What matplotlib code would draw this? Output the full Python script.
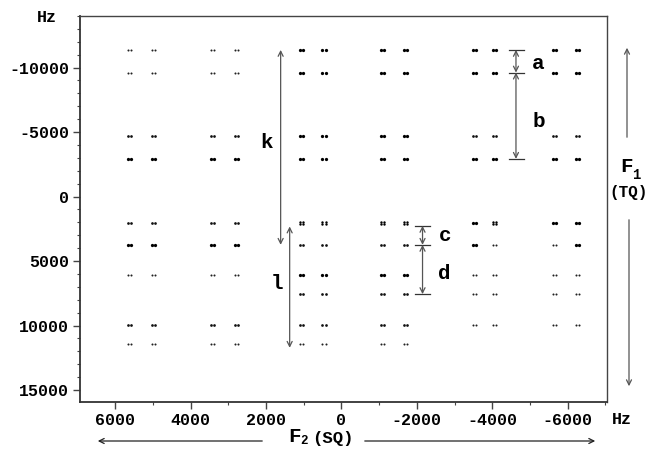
import matplotlib
matplotlib.use("Agg")
import matplotlib.pyplot as plt
from matplotlib.patches import FancyArrowPatch
from matplotlib.ticker import MultipleLocator, FixedLocator, FuncFormatter

plt.rcParams['font.family'] = ['Liberation Mono', 'DejaVu Sans']
plt.rcParams['font.weight'] = 'bold'
plt.rcParams['axes.unicode_minus'] = False

# ---- data ----
col_x = [5612, 4991, 3409, 2787, 1054, 462, -1088, -1707, -3520, -4070, -5644, -6265]
row_y = [-11370, -9610, -4730, -2920, 2050, 3740, 6070, 7570, 9950, 11420]
# 0 absent, 1 weak, 2 medium, 3 strong, 4 quartet
weights = [
    [1, 1, 1, 1, 3, 3, 3, 3, 3, 3, 3, 3],
    [1, 1, 1, 1, 3, 3, 3, 3, 3, 3, 3, 3],
    [2, 2, 2, 2, 3, 3, 3, 3, 2, 2, 2, 2],
    [3, 3, 3, 3, 3, 3, 3, 3, 3, 3, 3, 3],
    [2, 2, 2, 2, 4, 4, 4, 4, 3, 4, 3, 3],
    [3, 3, 3, 3, 2, 2, 2, 2, 3, 1, 1, 3],
    [1, 1, 1, 1, 3, 3, 3, 3, 1, 1, 1, 1],
    [0, 0, 0, 0, 2, 2, 2, 2, 1, 1, 1, 1],
    [2, 2, 2, 2, 2, 2, 2, 2, 1, 1, 1, 1],
    [1, 1, 1, 1, 1, 1, 1, 1, 0, 0, 0, 0],
]
doublet_split = 80     # Hz, horizontal splitting of each doublet
quartet_split = 230    # Hz, vertical splitting of quartets

x_ticks = [6000, 4000, 2000, 0, -2000, -4000, -6000]
y_ticks = [-10000, -5000, 0, 5000, 10000, 15000]

# ---- figure ----
W, H = 651, 449
fig = plt.figure(figsize=(W / 100, H / 100), dpi=100)
ax = fig.add_axes([80 / W, 1 - 402 / H, 527 / W, 386 / H])

sizes = {1: 2.2, 2: 3.8, 3: 5.5, 4: 3.0}
colors = {1: '#222222', 2: '#111111', 3: '#000000', 4: '#000000'}
for ri, y in enumerate(row_y):
    for ci, x in enumerate(col_x):
        w = weights[ri][ci]
        if w == 0:
            continue
        xs = [x + doublet_split / 2, x - doublet_split / 2]
        if w == 4:
            pts = [(xx, y + s * quartet_split / 2) for xx in xs for s in (-1, 1)]
        else:
            pts = [(xx, y) for xx in xs]
        px, py = zip(*pts)
        ax.scatter(px, py, s=sizes[w], c=colors[w], marker='o', linewidths=0)

ax.set_xlim(6930, -7040)
ax.set_ylim(15930, -14000)
ax.xaxis.set_major_locator(FixedLocator(x_ticks))
ax.yaxis.set_major_locator(FixedLocator(y_ticks))
ax.xaxis.set_minor_locator(MultipleLocator(1000))
ax.yaxis.set_minor_locator(MultipleLocator(1000))
fmt = FuncFormatter(lambda v, p: f"{int(round(v))}")
ax.xaxis.set_major_formatter(fmt)
ax.yaxis.set_major_formatter(fmt)
ax.tick_params(which='major', length=5, width=1.0, color='#444', labelsize=12, pad=3)
ax.tick_params(which='minor', length=2.5, width=0.8, color='#444')
for lab in ax.get_xticklabels() + ax.get_yticklabels():
    lab.set_fontweight('bold')
for side in ['left', 'bottom']:
    ax.spines[side].set_linewidth(1.3)
    ax.spines[side].set_color('#333')
for side in ['top', 'right']:
    ax.spines[side].set_linewidth(1.0)
    ax.spines[side].set_color('#444')

acol = '#555555'
def darrow(x, y0, y1):
    ax.annotate('', xy=(x, y0), xytext=(x, y1),
                arrowprops=dict(arrowstyle='<->', color=acol, lw=0.9,
                                mutation_scale=9, shrinkA=0, shrinkB=0))

def hbar(x0, x1, y):
    ax.plot([x0, x1], [y, y], color='#333', lw=0.9)

lab_kw = dict(fontsize=15, fontweight='bold', ha='center', va='center')
# k and l
darrow(1611, -11372, 3744)
ax.text(1990, -4160, 'k', **lab_kw)
darrow(1372, 2320, 11730)
ax.text(1716, 6770, 'l', **lab_kw)

# a and b
darrow(-4627, -11372, -9612)
darrow(-4627, -9612, -2922)
for yy in (-11372, -9612, -2922):
    hbar(-4440, -4840, yy)
ax.text(-5203, -10340, 'a', **lab_kw)
ax.text(-5240, -5810, 'b', **lab_kw)

# c and d
darrow(-2150, 2270, 3744)
darrow(-2150, 3744, 7566)
for yy in (2270, 3744, 7566):
    hbar(-1946, -2352, yy)
ax.text(-2743, 3050, 'c', **lab_kw)
ax.text(-2716, 5940, 'd', **lab_kw)

# ---- figure-level labels (pixel coords from top-left) ----
def P(x, y):
    return (x / W, 1 - y / H)

fig.text(*P(47, 17), 'Hz', fontsize=12, fontweight='bold', ha='center', va='center')
fig.text(*P(622, 419), 'Hz', fontsize=12, fontweight='bold', ha='center', va='center')

# F1 (TQ)
fig.text(*P(626, 167), 'F', fontsize=15, fontweight='bold', ha='center', va='center')
fig.text(*P(636, 175), '1', fontsize=10, fontweight='bold', ha='center', va='center')
fig.text(*P(629, 192), '(TQ)', fontsize=11.5, fontweight='bold', ha='center', va='center')
fig.add_artist(FancyArrowPatch(
    P(627, 140), P(627, 45), transform=fig.transFigure, arrowstyle='->',
    color=acol, lw=0.9, mutation_scale=9))
fig.add_artist(FancyArrowPatch(
    P(629, 217), P(629, 389), transform=fig.transFigure, arrowstyle='->',
    color=acol, lw=0.9, mutation_scale=9))

# F2 (SQ)
fig.text(*P(294, 437), 'F', fontsize=15, fontweight='bold', ha='center', va='center')
fig.text(*P(304, 441), '2', fontsize=9, fontweight='bold', ha='center', va='center')
fig.text(*P(333, 439), '(SQ)', fontsize=12.5, fontweight='bold', ha='center', va='center')
fig.add_artist(FancyArrowPatch(
    P(265, 441), P(95, 441), transform=fig.transFigure, arrowstyle='->',
    color='#222', lw=0.9, mutation_scale=9))
fig.add_artist(FancyArrowPatch(
    P(362, 441), P(598, 441), transform=fig.transFigure, arrowstyle='->',
    color='#222', lw=0.9, mutation_scale=9))

fig.savefig('out.png', dpi=100)
